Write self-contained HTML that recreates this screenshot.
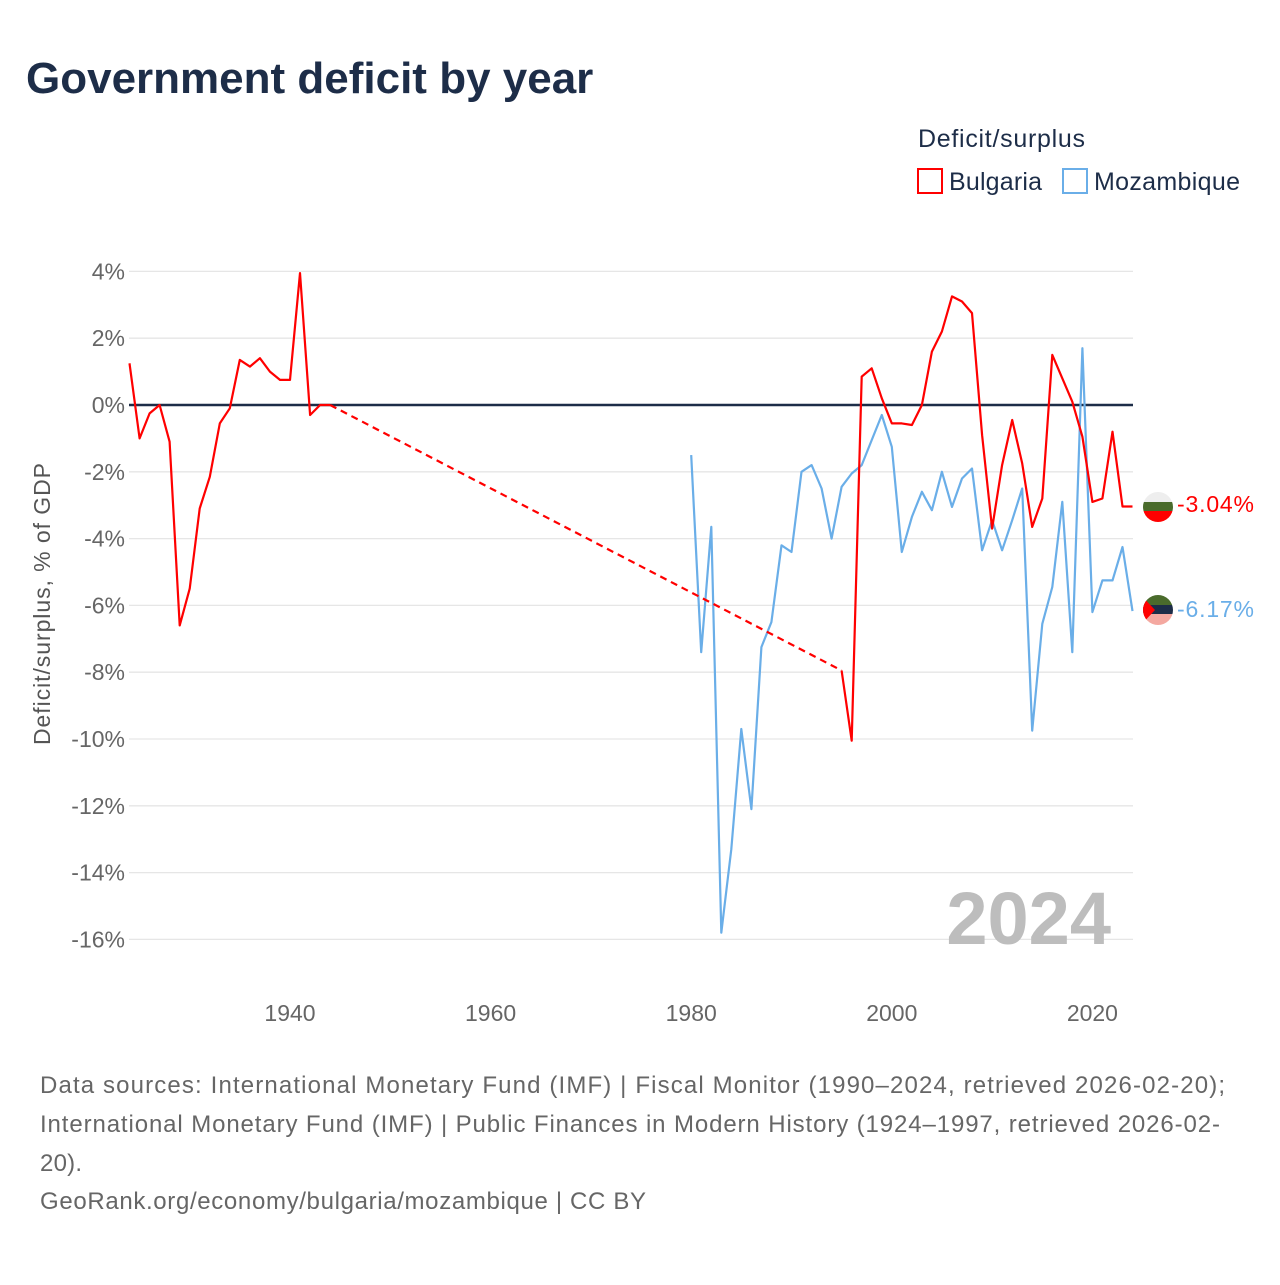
<!DOCTYPE html>
<html><head><meta charset="utf-8"><style>
body{margin:0;background:#fff;width:1280px;height:1280px;overflow:hidden;font-family:"Liberation Sans",sans-serif}
</style></head><body>
<svg width="1280" height="1280" xmlns="http://www.w3.org/2000/svg" font-family="Liberation Sans, sans-serif">
<text x="26" y="93" font-size="44" font-weight="bold" fill="#1d2d48">Government deficit by year</text>
<text x="918" y="147" font-size="25" fill="#1d2d48" textLength="167">Deficit/surplus</text>
<g><rect x="918" y="169" width="24" height="24" fill="none" stroke="#ff0000" stroke-width="2"/><text x="949" y="190" font-size="25" fill="#1d2d48" textLength="93">Bulgaria</text></g>
<g><rect x="1063" y="169" width="24" height="24" fill="none" stroke="#6aaee8" stroke-width="2"/><text x="1094" y="190" font-size="25" fill="#1d2d48" textLength="146">Mozambique</text></g>
<g id="grid"></g>
<g id="xticks"></g>
<text x="1111" y="944" font-size="74" font-weight="bold" fill="#bdbdbd" text-anchor="end">2024</text>
<g id="series"></g>
<text transform="translate(50,604) rotate(-90)" font-size="23" fill="#555" text-anchor="middle" textLength="282">Deficit/surplus, % of GDP</text>
<g><clipPath id="cb"><circle cx="1158" cy="507" r="15"/></clipPath><g clip-path="url(#cb)"><rect x="1140" y="490" width="40" height="12" fill="#eee"/><rect x="1140" y="502" width="40" height="9" fill="#4a6b2c"/><rect x="1140" y="511" width="40" height="14" fill="#ff0000"/></g></g>
<text x="1177" y="512" font-size="23" fill="#ff0000" textLength="77">-3.04%</text>
<g><clipPath id="cm"><circle cx="1158" cy="610" r="15"/></clipPath><g clip-path="url(#cm)"><rect x="1140" y="592" width="40" height="13" fill="#4a6b2c"/><rect x="1140" y="605" width="40" height="9" fill="#1d2d48"/><rect x="1140" y="614" width="40" height="14" fill="#f4a8a0"/><polygon points="1142,596 1155,610 1142,624" fill="#ff0000"/></g></g>
<text x="1177" y="617" font-size="23" fill="#6aaee8" textLength="77">-6.17%</text>
<g font-size="24" fill="#666">
<text x="40" y="1093" textLength="1185">Data sources: International Monetary Fund (IMF) | Fiscal Monitor (1990–2024, retrieved 2026-02-20);</text>
<text x="40" y="1132" textLength="1180">International Monetary Fund (IMF) | Public Finances in Modern History (1924–1997, retrieved 2026-02-</text>
<text x="40" y="1171" textLength="42">20).</text>
<text x="40" y="1209" textLength="606">GeoRank.org/economy/bulgaria/mozambique | CC BY</text>
</g>
</svg>
<script>
const yTicks=[4,2,0,-2,-4,-6,-8,-10,-12,-14,-16];
const xTicks=[1940,1960,1980,2000,2020];
const bgYearsA=[1924,1925,1926,1927,1928,1929,1930,1931,1932,1933,1934,1935,1936,1937,1938,1939,1940,1941,1942,1943,1944];
const bgValsA=[1.25,-1.0,-0.25,0,-1.1,-6.6,-5.5,-3.1,-2.15,-0.55,-0.1,1.35,1.15,1.4,1.0,0.75,0.75,3.95,-0.3,0,0];
const bgYearsB=[1995,1996,1997,1998,1999,2000,2001,2002,2003,2004,2005,2006,2007,2008,2009,2010,2011,2012,2013,2014,2015,2016,2017,2018,2019,2020,2021,2022,2023,2024];
const bgValsB=[-7.95,-10.05,0.85,1.1,0.2,-0.55,-0.55,-0.6,0,1.6,2.2,3.25,3.1,2.75,-0.9,-3.7,-1.8,-0.45,-1.75,-3.65,-2.8,1.5,0.8,0.1,-0.95,-2.9,-2.8,-0.8,-3.04,-3.04];
const mzYears=[1980,1981,1982,1983,1984,1985,1986,1987,1988,1989,1990,1991,1992,1993,1994,1995,1996,1997,1998,1999,2000,2001,2002,2003,2004,2005,2006,2007,2008,2009,2010,2011,2012,2013,2014,2015,2016,2017,2018,2019,2020,2021,2022,2023,2024];
const mzVals=[-1.5,-7.4,-3.65,-15.8,-13.3,-9.7,-12.1,-7.25,-6.5,-4.2,-4.4,-2.0,-1.8,-2.5,-4.0,-2.45,-2.05,-1.8,-1.05,-0.3,-1.25,-4.4,-3.35,-2.6,-3.15,-2.0,-3.05,-2.2,-1.9,-4.35,-3.45,-4.35,-3.45,-2.5,-9.75,-6.55,-5.45,-2.9,-7.4,1.7,-6.2,-5.25,-5.25,-4.25,-6.17];
const NS="http://www.w3.org/2000/svg";
const X=y=>290+(y-1940)*10.03;
const Y=v=>405-v*33.4;
function mk(t,a){const e=document.createElementNS(NS,t);for(const k in a)e.setAttribute(k,a[k]);return e;}
const grid=document.getElementById('grid');
yTicks.forEach(v=>{
 const l=mk('line',{x1:129,x2:1133,y1:Y(v),y2:Y(v),stroke:v===0?'#1d2d48':'#e6e6e6','stroke-width':v===0?2.5:1.3});
 
 
 grid.appendChild(l);
 const t=mk('text',{x:125,y:Y(v)+8,'font-size':23,fill:'#666','text-anchor':'end'});
 t.textContent=v+'%';
 
 
 grid.appendChild(t);
});
const xt=document.getElementById('xticks');
xTicks.forEach(y=>{
 const t=mk('text',{x:X(y),y:1021,'font-size':23,fill:'#666','text-anchor':'middle'});
 t.textContent=y;
 
 
 xt.appendChild(t);
});
const s=document.getElementById('series');
function pts(ys,vs){return ys.map((y,i)=>X(y).toFixed(1)+','+Y(vs[i]).toFixed(1)).join(' ');}
const mz=mk('polyline',{points:pts(mzYears,mzVals),fill:'none',stroke:'#6aaee8','stroke-width':2.2,'stroke-linejoin':'round'});


s.appendChild(mz);
const a=mk('polyline',{points:pts(bgYearsA,bgValsA),fill:'none',stroke:'#ff0000','stroke-width':2.2,'stroke-linejoin':'round'});


s.appendChild(a);
const la=bgYearsA.length-1;
const d=mk('line',{x1:X(bgYearsA[la]),y1:Y(bgValsA[la]),x2:X(bgYearsB[0]),y2:Y(bgValsB[0]),stroke:'#ff0000','stroke-width':2.2,'stroke-dasharray':'7,5'});


s.appendChild(d);
const b=mk('polyline',{points:pts(bgYearsB,bgValsB),fill:'none',stroke:'#ff0000','stroke-width':2.2,'stroke-linejoin':'round'});


s.appendChild(b);
</script>
</body></html>
